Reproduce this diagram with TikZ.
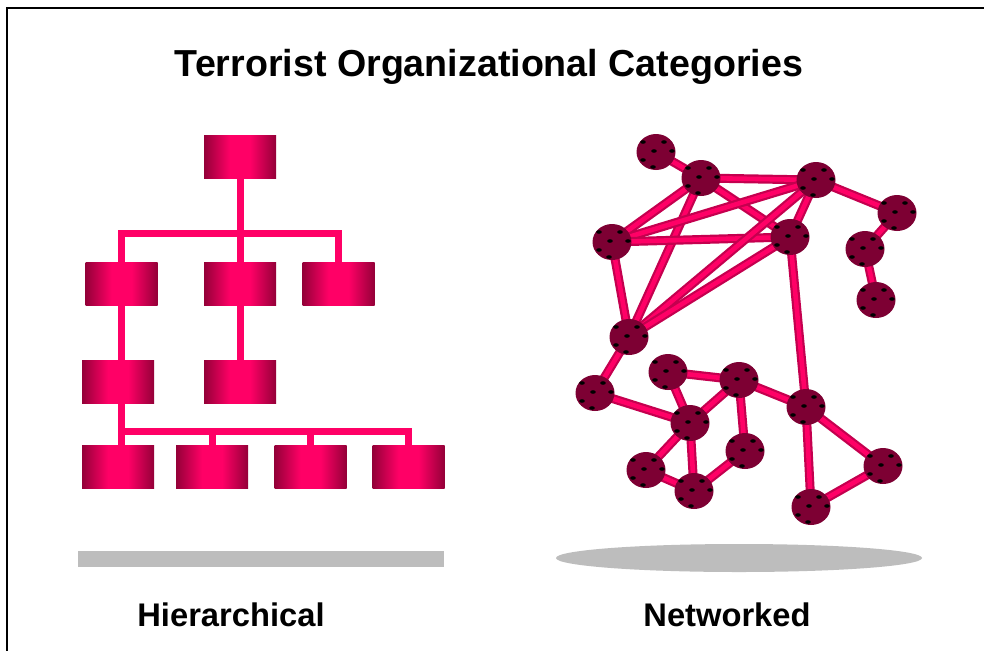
\documentclass[tikz,border=0pt]{standalone}
\usepackage{fontspec}
\setmainfont{Liberation Sans}
\usepackage{xcolor}
\usepackage{tikz}
\usetikzlibrary{shapes.geometric}
\definecolor{hotpink}{HTML}{FF0066}
\definecolor{boxdark}{HTML}{940038}
\definecolor{tubedark}{HTML}{C4004F}
\definecolor{nodedark}{HTML}{7D0033}
\definecolor{shadowgray}{HTML}{BDBDBD}
\pgfdeclarehorizontalshading{orgshade}{100bp}{color(0bp)=(boxdark); color(25bp)=(boxdark);
  color(43bp)=(hotpink); color(57bp)=(hotpink); color(75bp)=(boxdark); color(100bp)=(boxdark)}
\pgfdeclarelayer{background}
\pgfsetlayers{background,main}
\tikzset{
  orgbox/.style={rectangle, minimum width=72pt, minimum height=43pt, inner sep=0pt,
    shading=orgshade},
  link/.style={draw=hotpink, line width=7pt},
  cell/.style={ellipse, minimum width=39pt, minimum height=36pt, inner sep=0pt,
    fill=nodedark, path picture={
      \foreach \dx/\dy in {-13/-10, 8/-10, -2/-1, 16/-1, -13/8, -3/15}
        \fill[black] ([shift={(\dx,\dy)}]path picture bounding box.center)
          ellipse [x radius=2.8, y radius=1.8];}},
  tube/.style={draw=tubedark, double=hotpink, line width=2.2pt, double distance=4.6pt},
  caption/.style={font=\bfseries\fontsize{32.7}{38}\selectfont, anchor=base}
}
\newcommand{\busy}{233.5}

\begin{document}
\begin{tikzpicture}[x=1pt, y=-1pt]
\useasboundingbox (0,0) rectangle (984,651);

\node[font=\bfseries\fontsize{37.6}{44}\selectfont, anchor=base] (title) at (489,76)
  {Terrorist Organizational Categories};

\node[orgbox] (top) at (240,156.5) {};
\node[orgbox] (midA) at (121.5,283.5) {};
\node[orgbox] (midB) at (240,283.5) {};
\node[orgbox] (midC) at (338.5,283.5) {};
\node[orgbox] (lowA) at (118,382) {};
\node[orgbox] (lowB) at (240,382) {};
\node[orgbox] (cellA) at (118,466.5) {};
\node[orgbox] (cellB) at (212,466.5) {};
\node[orgbox] (cellC) at (310.5,466.5) {};
\node[orgbox] (cellD) at (408.5,466.5) {};
\coordinate (bus1) at (240,\busy);
\coordinate (bus2) at (120.5,431);

\fill[shadowgray] (78,551) rectangle (444,567);
\fill[shadowgray] (739,558) ellipse [x radius=183, y radius=14];

\node[cell] (n1) at (656,152) {};
\node[cell] (n2) at (701,178) {};
\node[cell] (n3) at (816,180) {};
\node[cell] (n4) at (897,213) {};
\node[cell] (n5) at (865,249) {};
\node[cell] (n6) at (876,300) {};
\node[cell] (n7) at (612,242) {};
\node[cell] (n8) at (790,237) {};
\node[cell] (n9) at (629,337) {};
\node[cell] (n10) at (595,393) {};
\node[cell] (n11) at (668,372) {};
\node[cell] (n12) at (739,380) {};
\node[cell] (n13) at (690,423) {};
\node[cell] (n14) at (806,407) {};
\node[cell] (n15) at (745,451) {};
\node[cell] (n16) at (646,470) {};
\node[cell] (n17) at (694,491) {};
\node[cell] (n18) at (883,466) {};
\node[cell] (n19) at (811,507) {};

\node[caption] (hier) at (231,626) {Hierarchical};
\node[caption] (net) at (727,626) {Networked};

\begin{pgfonlayer}{background}
\fill[top color=white, middle color=black!16, bottom color=white] (7,8) rectangle (984,651);
\draw[line width=2.5pt] (984,8) -- (7,8) -- (7,651);
\draw[link] (top) -- (midB);
\draw[link] (midA) |- (bus1) -| (midC);
\draw[link] (midB) -- (lowB);
\draw[link] (midA) -- (midA |- cellA);
\draw[link] (bus2) -| (cellD);
\draw[link] (cellB) -- (cellB |- bus2);
\draw[link] (cellC) -- (cellC |- bus2);
\foreach \a/\b in {n1/n2, n2/n3, n3/n4, n4/n5, n5/n6, n2/n7, n2/n9, n2/n8,
  n7/n3, n7/n8, n7/n9, n3/n9, n8/n9, n3/n8, n8/n14, n9/n10, n10/n13,
  n11/n12, n11/n13, n12/n13, n12/n14, n12/n15, n13/n16, n13/n17,
  n16/n17, n17/n15, n14/n19, n14/n18, n18/n19}
  \draw[tube] (\a.center) -- (\b.center);
\end{pgfonlayer}
\end{tikzpicture}
\end{document}
